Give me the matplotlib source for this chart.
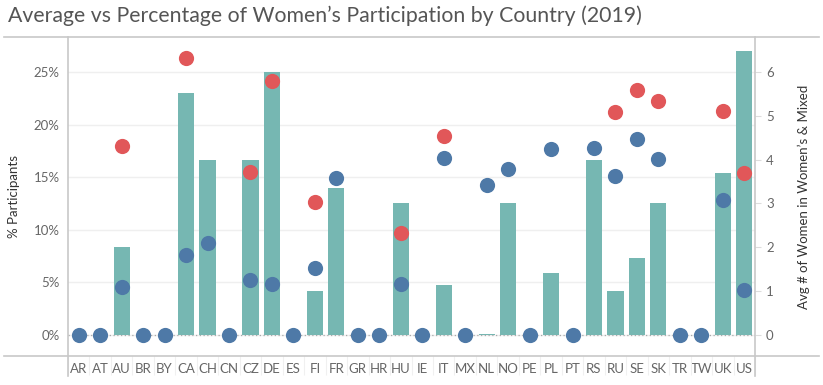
import numpy as np
import matplotlib.pyplot as plt
from matplotlib.lines import Line2D

plt.rcParams['font.family'] = ['Lato', 'DejaVu Sans']

countries = ['AR', 'AT', 'AU', 'BR', 'BY', 'CA', 'CH', 'CN', 'CZ', 'DE', 'ES',
             'FI', 'FR', 'GR', 'HR', 'HU', 'IE', 'IT', 'MX', 'NL', 'NO', 'PE',
             'PL', 'PT', 'RS', 'RU', 'SE', 'SK', 'TR', 'TW', 'UK', 'US']

# % participants (bars, left axis)
pct_participants = [0, 0, 8.33, 0, 0, 23.0, 16.67, 0, 16.67, 25.0, 0,
                    4.17, 14.0, 0, 0, 12.5, 0, 4.76, 0, 0.1, 12.5, 0,
                    5.88, 0, 16.67, 4.17, 7.3, 12.5, 0, 0, 15.4, 27.0]

# avg # of women (dots, right axis)
avg_blue = [0, 0, 1.1, 0, 0, 1.82, 2.09, 0, 1.25, 1.16, 0,
            1.52, 3.58, 0, 0, 1.16, 0, 4.03, 0, 3.42, 3.78, 0,
            4.24, 0, 4.26, 3.62, 4.47, 4.01, 0, 0, 3.07, 1.02]
nan = np.nan
avg_red = [nan, nan, 4.32, nan, nan, 6.32, nan, nan, 3.71, 5.8, nan,
           3.03, nan, nan, nan, 2.32, nan, 4.54, nan, nan, nan, nan,
           nan, nan, nan, 5.09, 5.59, 5.34, nan, nan, 5.11, 3.69]

x = np.arange(len(countries))

fig = plt.figure(figsize=(8.23, 3.85), dpi=100)
ax = fig.add_axes([68 / 823, 29 / 385, 687 / 823, 318.7 / 385])

ax.bar(x, pct_participants, width=0.75, color='#76b7b2', zorder=2)
ax.axhline(0, color='#aaaaaa', linestyle=(0, (1, 2)), linewidth=0.9, zorder=1)

ax.set_xlim(-0.5, len(countries) - 0.5)
ax.set_ylim(-2.0, 28.3)
ax.set_yticks([0, 5, 10, 15, 20, 25])
ax.set_yticklabels(['0%', '5%', '10%', '15%', '20%', '25%'])
ax.yaxis.grid(True, color='#efefef', linewidth=1, zorder=0)
ax.set_axisbelow(True)
ax.set_xticks(x)
ax.set_xticklabels(countries)
ax.set_xticks(np.arange(-0.5, len(countries), 1), minor=True)
ax.tick_params(axis='x', which='major', length=0, pad=5, labelsize=9.5, labelcolor='#666666')
ax.tick_params(axis='x', which='minor', length=14, color='#f0f0f0', width=0.8)
ax.tick_params(axis='y', length=0, pad=6, labelsize=9.5, labelcolor='#666666')
ax.set_ylabel('% Participants', fontsize=9.5, color='#333333')
ax.yaxis.set_label_coords(-0.07, 0.5)
for s in ax.spines.values():
    s.set_visible(False)

ax2 = ax.twinx()
ax2.set_ylim(-2.0 * 0.24, 28.3 * 0.24)
ax2.scatter(x, avg_blue, s=120, color='#4e79a7', zorder=3, linewidths=0)
ax2.scatter(x, avg_red, s=120, color='#e15759', zorder=4, linewidths=0)
ax2.set_yticks([0, 1, 2, 3, 4, 5, 6])
ax2.tick_params(axis='y', length=4, color='#dddddd', pad=4, labelsize=9.5, labelcolor='#666666')
ax2.set_ylabel('Avg # of Women in Women\u2019s & Mixed', fontsize=9.5, color='#333333')
ax2.yaxis.set_label_coords(1.062, 0.5)
for s in ax2.spines.values():
    s.set_visible(False)

# frame lines around the view
def fline(x0, y0, x1, y1):
    fig.add_artist(Line2D([x0 / 823, x1 / 823], [1 - y0 / 385, 1 - y1 / 385],
                          color='#c8c8c8', linewidth=1.2))

fline(4, 37.3, 819, 37.3)
fline(4, 356, 819, 356)
fline(68.3, 37.3, 68.3, 376)
fline(755.3, 37.3, 755.3, 376)

fig.text(8 / 823, 1 - 16 / 385, 'Average vs Percentage of Women\u2019s Participation by Country (2019)',
         fontsize=15.3, color='#555555', va='center', ha='left')

fig.savefig('out.png', dpi=100)
